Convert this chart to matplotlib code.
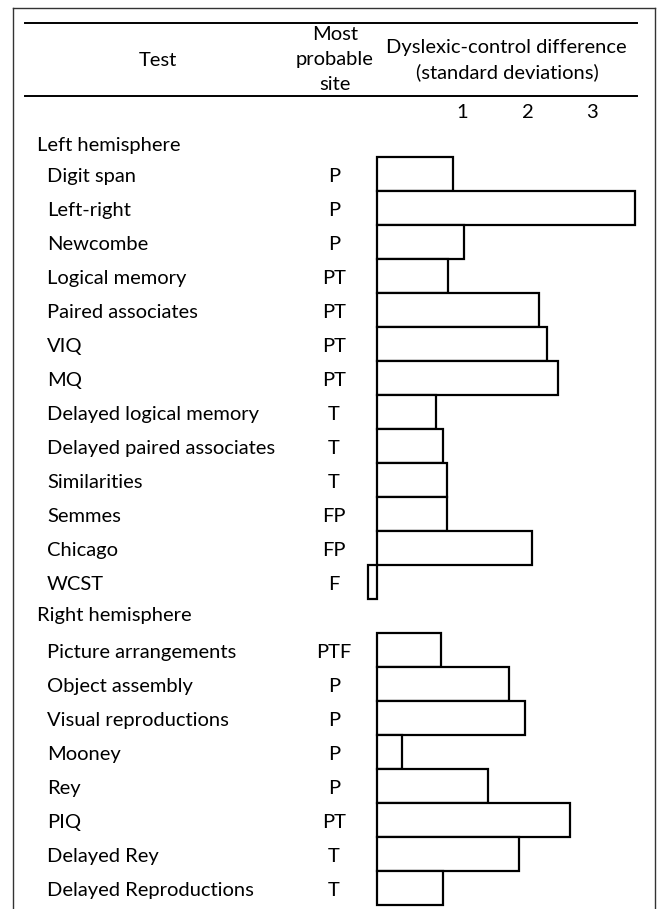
import matplotlib
matplotlib.use("Agg")
import matplotlib.pyplot as plt
from matplotlib.lines import Line2D
from matplotlib.transforms import blended_transform_factory

left_tests = [
    "Digit span", "Left-right", "Newcombe", "Logical memory", "Paired associates",
    "VIQ", "MQ", "Delayed logical memory", "Delayed paired associates",
    "Similarities", "Semmes", "Chicago", "WCST",
]
left_sites = ["P", "P", "P", "PT", "PT", "PT", "PT", "T", "T", "T", "FP", "FP", "F"]
left_values = [1.20, 4.03, 1.36, 1.11, 2.53, 2.66, 2.83, 0.93, 1.03, 1.10, 1.10, 2.42, -0.13]

right_tests = [
    "Picture arrangements", "Object assembly", "Visual reproductions", "Mooney",
    "Rey", "PIQ", "Delayed Rey", "Delayed Reproductions",
]
right_sites = ["PTF", "P", "P", "P", "P", "PT", "T", "T"]
right_values = [1.01, 2.07, 2.32, 0.40, 1.74, 3.02, 2.23, 1.04]

tick_positions = [1.34, 2.36, 3.36]
tick_labels = ["1", "2", "3"]

W, H = 660, 909
X0, PX_PER_SD = 376.7, 64.0   # bar baseline and scale, in pixels
ROW0, ROW_H = 140.0, 34.0     # row 0 centre and row pitch, in pixels
FONT = "Lato"
FS = 14.5

fig = plt.figure(figsize=(W / 100, H / 100), dpi=100)
ax = fig.add_axes([0, 0, 1, 1])
ax.set_axis_off()
ax.set_xlim(-X0 / PX_PER_SD, (W - X0) / PX_PER_SD)
ax.set_ylim((H - ROW0) / ROW_H, -ROW0 / ROW_H)

left_rows = list(range(1, 1 + len(left_tests)))
right_header_row = left_rows[-1] + 1
right_rows = list(range(right_header_row + 1, right_header_row + 1 + len(right_tests)))

ax.barh(left_rows + right_rows, left_values + right_values, height=1.0,
        color="white", edgecolor="black", linewidth=1.6)

# row labels
row_tf = blended_transform_factory(fig.transFigure, ax.transData)
txt = dict(fontsize=FS, family=FONT, color="black", va="center")
ax.text(37 / W, 0.15, "Left hemisphere", transform=row_tf, ha="left", **txt)
ax.text(37 / W, right_header_row, "Right hemisphere", transform=row_tf, ha="left", **txt)
for r, name, site in zip(left_rows + right_rows, left_tests + right_tests,
                         left_sites + right_sites):
    ax.text(47 / W, r + 0.08, name, transform=row_tf, ha="left", **txt)
    ax.text(334 / W, r + 0.08, site, transform=row_tf, ha="center", **txt)

# column headers
def fig_text(x, y, s, ha="center"):
    fig.text(x / W, 1 - y / H, s, ha=ha, va="center", fontsize=FS, family=FONT)

fig_text(158, 60, "Test")
fig_text(335, 35, "Most")
fig_text(335, 60, "probable")
fig_text(335, 85, "site")
fig_text(506, 48, "Dyslexic-control difference")
fig_text(507, 72, "(standard deviations)")

tick_tf = blended_transform_factory(ax.transData, fig.transFigure)
for pos, lab in zip(tick_positions, tick_labels):
    ax.text(pos, 1 - 112 / H, lab, transform=tick_tf, ha="center", va="center",
            fontsize=FS, family=FONT)

# rules and frame
def hline(x0, x1, y, lw, color="black"):
    fig.add_artist(Line2D([x0 / W, x1 / W], [1 - y / H, 1 - y / H],
                          transform=fig.transFigure, color=color, lw=lw))

def vline(x, y0, y1, lw, color="black"):
    fig.add_artist(Line2D([x / W, x / W], [1 - y0 / H, 1 - y1 / H],
                          transform=fig.transFigure, color=color, lw=lw))

hline(25, 637, 22.7, 1.4)
hline(25, 637, 96, 1.4)
hline(12.7, 655, 8, 1.0, "#333333")
vline(12.7, 8, H, 1.0, "#333333")
vline(655, 8, H, 1.0, "#333333")

fig.savefig("out.png", dpi=100)
